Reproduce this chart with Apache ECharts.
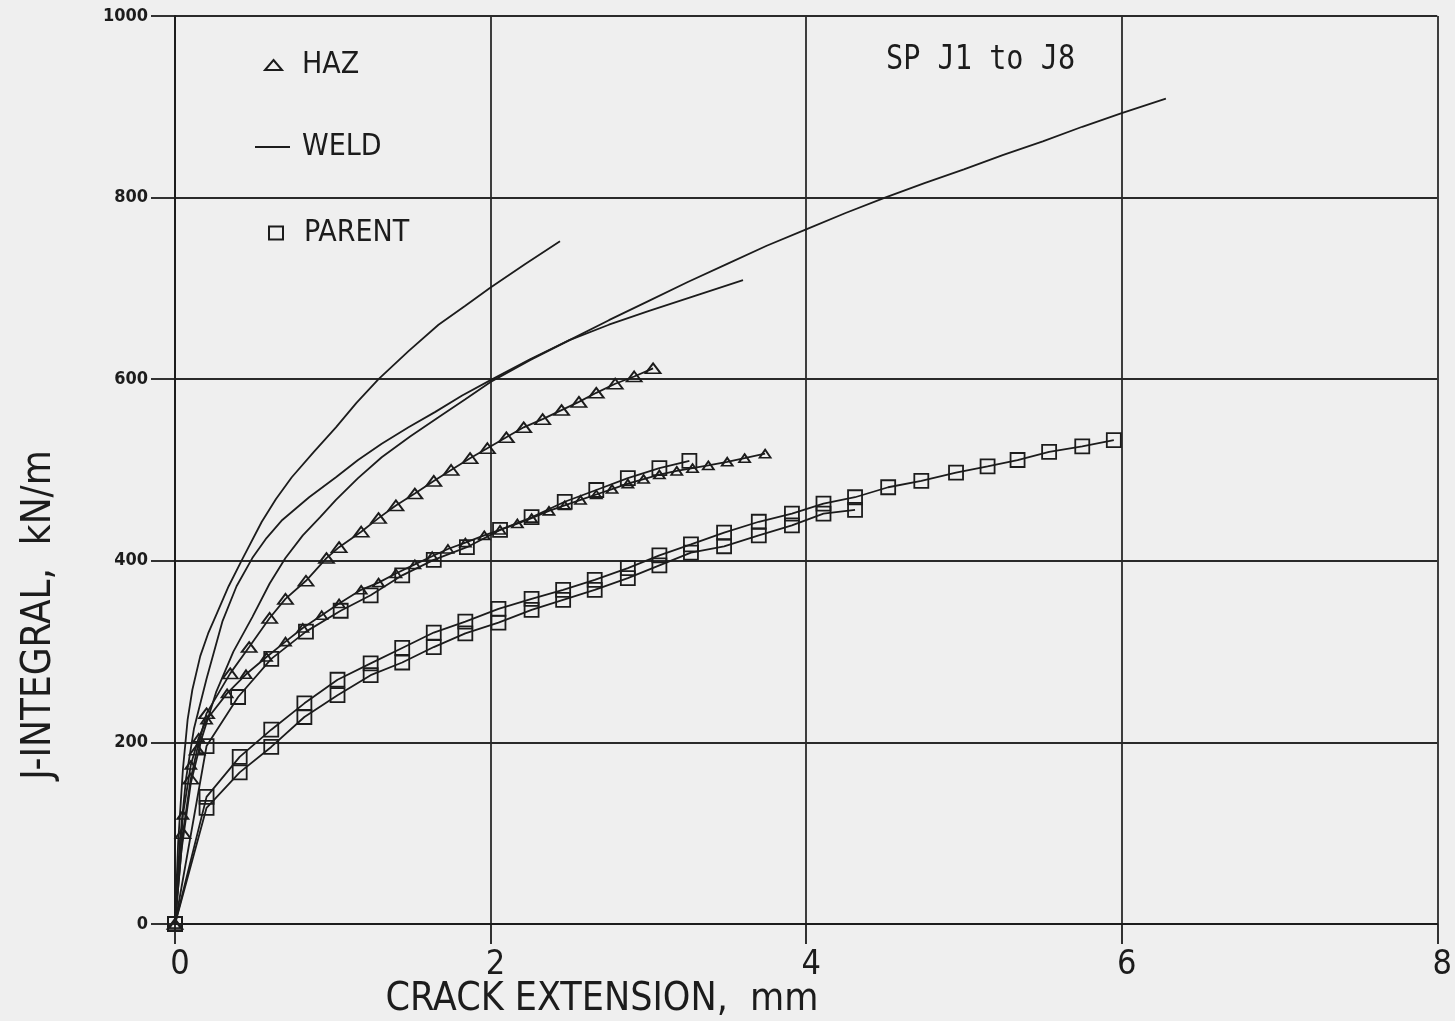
<!DOCTYPE html>
<html>
<head>
<meta charset="utf-8">
<title>J-integral resistance curves</title>
<script src="https://cdn.jsdelivr.net/npm/echarts@6/dist/echarts.min.js"></script>
<style>
  html, body { margin: 0; padding: 0; background: #efefef; }
  #chart { width: 1455px; height: 1021px; }
</style>
</head>
<body>
<div id="chart"></div>
<script>
// Axis ticks
const xTicks = [0, 2, 4, 6, 8];
const yTicks = [0, 200, 400, 600, 800, 1000];

// HAZ specimens: [crack extension mm, J kN/m]
const hazUpper = [[0,0],[0.05,100],[0.1,160],[0.14,192],[0.2,232],[0.35,276],[0.47,305],[0.6,337],[0.7,358],
  [0.83,378],[0.96,403],[1.04,415],[1.18,432],[1.29,447],[1.4,461],[1.52,474],[1.64,488],[1.75,500],[1.87,513],
  [1.98,524],[2.1,536],[2.21,547],[2.33,556],[2.45,566],[2.56,575],[2.67,585],[2.79,595],[2.91,603],[3.03,612]];
const hazLower = [[0,0],[0.05,120],[0.1,175],[0.15,205],[0.2,225],[0.33,254],[0.45,275],[0.58,294],[0.7,311],
  [0.81,326],[0.93,340],[1.04,353],[1.18,368],[1.29,376],[1.4,386],[1.52,396],[1.63,405],[1.73,413],[1.84,420],
  [1.96,428],[2.06,434],[2.17,441],[2.26,447],[2.37,455],[2.47,461],[2.57,467],[2.67,473],[2.77,479],[2.87,485],
  [2.97,490],[3.07,495],[3.18,499],[3.28,502],[3.38,505],[3.5,509],[3.61,513],[3.74,518]];

// Weld metal specimens
const weldA = [[0,0],[0.02,90],[0.05,170],[0.08,225],[0.11,258],[0.16,295],[0.21,320],[0.26,340],[0.34,372],
  [0.43,403],[0.55,443],[0.64,468],[0.74,492],[0.88,520],[1.02,547],[1.15,574],[1.29,600],[1.48,631],[1.67,660],
  [1.84,681],[2.0,701],[2.22,727],[2.44,752]];
const weldB = [[0,0],[0.03,90],[0.07,160],[0.12,215],[0.2,270],[0.3,333],[0.39,372],[0.49,403],[0.58,425],
  [0.68,445],[0.85,470],[1.02,492],[1.16,511],[1.31,529],[1.48,547],[1.65,564],[1.82,582],[2.0,599],[2.25,622],
  [2.5,643],[2.75,660],[3.0,675],[3.3,692],[3.6,709]];
const weldC = [[0,0],[0.04,80],[0.1,155],[0.17,205],[0.26,255],[0.37,300],[0.49,338],[0.6,375],[0.7,403],
  [0.81,428],[0.92,448],[1.02,467],[1.16,491],[1.31,514],[1.49,537],[1.67,558],[1.84,578],[2.0,597],[2.25,621],
  [2.5,643],[2.75,665],[3.0,686],[3.25,707],[3.5,727],[3.75,747],[4.0,765],[4.25,783],[4.5,800],[4.75,816],
  [5.0,831],[5.25,847],[5.5,862],[5.75,878],[6.0,893],[6.28,909]];

// Parent plate specimens
const parentA = [[0,0],[0.2,196],[0.4,250],[0.61,292],[0.83,322],[1.05,345],[1.24,362],[1.44,384],[1.64,401],
  [1.85,415],[2.06,434],[2.26,448],[2.47,465],[2.67,478],[2.87,491],[3.07,502],[3.26,510]];
const parentB = [[0,0],[0.2,140],[0.41,184],[0.61,214],[0.82,243],[1.03,269],[1.24,287],[1.44,304],[1.64,321],
  [1.84,333],[2.05,347],[2.26,358],[2.46,368],[2.66,379],[2.87,392],[3.07,406],[3.27,418],[3.48,431],[3.7,443],
  [3.91,452],[4.11,463],[4.31,470],[4.52,481],[4.73,488],[4.95,497],[5.15,504],[5.34,511],[5.54,520],[5.75,526],
  [5.95,533]];
const parentC = [[0,0],[0.2,128],[0.41,167],[0.61,195],[0.82,228],[1.03,252],[1.24,274],[1.44,288],[1.64,305],
  [1.84,320],[2.05,332],[2.26,346],[2.46,357],[2.66,368],[2.87,381],[3.07,395],[3.27,409],[3.48,416],[3.7,428],
  [3.91,439],[4.11,452],[4.31,456]];

const INK = '#1c1c1c';
const PAPER = '#efefef';
const plotFont = "'DejaVu Sans Condensed', 'Liberation Sans Narrow', sans-serif";
const monoFont = "'DejaVu Sans Mono', 'Liberation Mono', monospace";

function weldSeries(data) {
  return {
    name: 'WELD', type: 'line', data: data, symbol: 'none',
    lineStyle: { color: INK, width: 1.8 }, itemStyle: { color: INK }, z: 3
  };
}
function markedSeries(name, data, symbol, size) {
  return {
    name: name, type: 'line', data: data, symbol: symbol, symbolSize: size, showAllSymbol: true,
    lineStyle: { color: INK, width: 1.8 },
    itemStyle: { color: 'transparent', borderColor: INK, borderWidth: 1.8 }, z: 4
  };
}
function legendEntry(name, left, top, w, h, icon, style, textPad) {
  return {
    data: [{ name: name, icon: icon, itemStyle: style }],
    left: left, top: top, itemWidth: w, itemHeight: h, selectedMode: false,
    textStyle: { fontFamily: plotFont, fontSize: 30, color: INK, lineHeight: 30, padding: [0, 0, 0, textPad] }
  };
}
const hollow = { color: 'transparent', borderColor: INK, borderWidth: 2 };

const chart = echarts.init(document.getElementById('chart'), null, { renderer: 'canvas' });
chart.setOption({
  backgroundColor: PAPER,
  animation: false,
  grid: { left: 175, right: 10, top: 16, bottom: 97, containLabel: false },
  legend: [
    legendEntry('HAZ', 259, 45, 17, 10, 'triangle', hollow, 15),
    legendEntry('WELD', 250, 127, 35, 2, 'rect', { color: INK, borderWidth: 0 }, 7),
    legendEntry('PARENT', 263, 213, 14, 13, 'rect', hollow, 16)
  ],
  xAxis: {
    type: 'value', min: xTicks[0], max: xTicks[xTicks.length - 1], interval: 2,
    axisLine: { show: true, onZero: false, lineStyle: { color: INK, width: 2 } },
    axisTick: { show: true, inside: false, length: 20, lineStyle: { color: INK, width: 1.8 } },
    splitLine: { show: true, lineStyle: { color: '#2a2a2a', width: 1.8 } },
    axisLabel: { margin: 24, color: INK, fontFamily: plotFont, fontSize: 34, padding: [0, 0, 0, 10] }
  },
  yAxis: {
    type: 'value', min: yTicks[0], max: yTicks[yTicks.length - 1], interval: 200,
    axisLine: { show: true, lineStyle: { color: INK, width: 2 } },
    axisTick: { show: true, inside: false, length: 24, lineStyle: { color: INK, width: 1.8 } },
    splitLine: { show: true, lineStyle: { color: '#2a2a2a', width: 1.8 } },
    axisLabel: { margin: 27, color: INK, fontFamily: plotFont, fontWeight: 'bold', fontSize: 18,
                 formatter: function (v) { return String(v); } }
  },
  graphic: [
    { type: 'text', x: 886, y: 60, scaleX: 0.84,
      style: { text: 'SP J1 to J8', fontFamily: monoFont, fontSize: 34, fill: INK,
               textAlign: 'left', textVerticalAlign: 'middle' } },
    { type: 'text', x: 602, y: 1000,
      style: { text: 'CRACK EXTENSION,  mm', fontFamily: plotFont, fontSize: 39, fill: INK,
               textAlign: 'center', textVerticalAlign: 'middle' } },
    { type: 'text', x: 40, y: 615, rotation: Math.PI / 2,
      style: { text: 'J-INTEGRAL,  kN/m', fontFamily: plotFont, fontSize: 40, fill: INK,
               textAlign: 'center', textVerticalAlign: 'middle' } }
  ],
  series: [
    weldSeries(weldA),
    weldSeries(weldB),
    weldSeries(weldC),
    markedSeries('HAZ', hazUpper, 'triangle', [15, 10]),
    markedSeries('HAZ', hazLower, 'triangle', [11, 8]),
    markedSeries('PARENT', parentA, 'rect', 14),
    markedSeries('PARENT', parentB, 'rect', 14),
    markedSeries('PARENT', parentC, 'rect', 14)
  ]
});
</script>
</body>
</html>
